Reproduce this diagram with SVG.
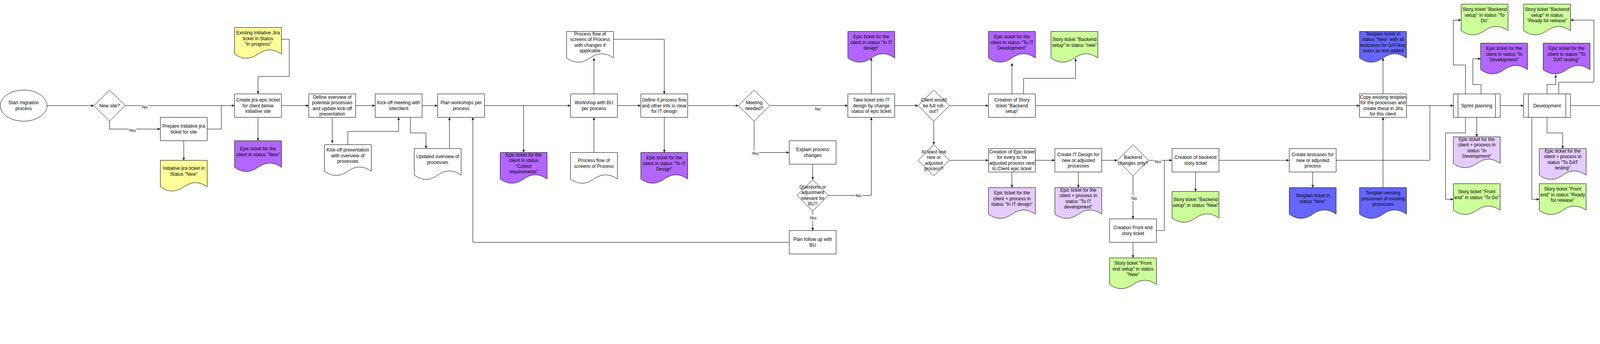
<svg xmlns="http://www.w3.org/2000/svg" width="5732" height="881" viewBox="0 0 5732 881">
<defs>
<style>
.w{fill:#fff;stroke:#000;stroke-width:1}
.y{fill:#FFFF99;stroke:#000;stroke-width:1}
.p{fill:#B266FF;stroke:#000;stroke-width:1}
.lp{fill:#E5CCFF;stroke:#000;stroke-width:1}
.g{fill:#CCFF99;stroke:#000;stroke-width:1}
.bl{fill:#6666FF;stroke:#000;stroke-width:1}
.r{fill:#FF3333;stroke:#000;stroke-width:1}
text{font-family:"Liberation Sans",Arial,Helvetica,sans-serif;font-size:12px;text-anchor:middle;dominant-baseline:central;fill:#000}
.c path{fill:none;stroke:#000;stroke-width:1;marker-end:url(#a)}
.c path.n{marker-end:none}
.lbl text{font-size:11px}
.lbl rect{fill:#fff;stroke:none}
</style>
<marker id="a" markerWidth="8" markerHeight="7" refX="8" refY="3.5" orient="auto" markerUnits="userSpaceOnUse"><path d="M0,0L8,3.5L0,7L2.5,3.5Z" fill="#000"/></marker>
<path id="doc" d="M0,0H120V68Q90,46.4 60,68Q30,89.6 0,68Z"/>
<path id="dia" d="M40,0L80,40L40,80L0,40Z"/>
<g id="proc"><rect width="120" height="60"/><path d="M12,0V60M108,0V60" fill="none"/></g>
</defs>
<rect width="5732" height="881" fill="#fff"/>
<g transform="translate(0.5,0.5)">
<g id="n_start"><ellipse cx="60" cy="270" rx="60" ry="40" class="w"/><text><tspan x="60" y="262.8">Start migration</tspan><tspan x="60" y="277.2">process</tspan></text></g>
<g id="n_newsite"><use href="#dia" x="240" y="230" class="w"/><text x="280" y="270">New site?</text></g>
<g id="n_prepare"><rect x="410" y="300" width="120" height="60" class="w"/><text><tspan x="470" y="322.8">Prepare Initiative jira</tspan><tspan x="470" y="337.2">ticket for site</tspan></text></g>
<g id="n_initnew"><use href="#doc" x="410" y="410" class="y"/><text><tspan x="470" y="430.8">Initiative jira ticket in</tspan><tspan x="470" y="445.2">Status "New"</tspan></text></g>
<g id="n_existing"><use href="#doc" x="600" y="70" class="y"/><text><tspan x="660" y="83.6">Existing Initiative Jira</tspan><tspan x="660" y="98">ticket in Status</tspan><tspan x="660" y="112.4">"In progress"</tspan></text></g>
<g id="n_createepic"><rect x="600" y="240" width="120" height="60" class="w"/><text><tspan x="660" y="255.6">Create jira epic ticket</tspan><tspan x="660" y="270">for client below</tspan><tspan x="660" y="284.4">initiative site</tspan></text></g>
<g id="n_epicnew"><use href="#doc" x="600" y="360" class="p"/><text><tspan x="660" y="380.8">Epic ticket for the</tspan><tspan x="660" y="395.2">client in status "New"</tspan></text></g>
<g id="n_defineov"><rect x="790" y="240" width="120" height="60" class="w"/><text><tspan x="850" y="248.4">Define overview of</tspan><tspan x="850" y="262.8">potential processes</tspan><tspan x="850" y="277.2">and update kick-off</tspan><tspan x="850" y="291.6">presentation</tspan></text></g>
<g id="n_kopres"><use href="#doc" x="830" y="370" class="w"/><text><tspan x="890" y="383.6">Kick-off presentation</tspan><tspan x="890" y="398">with overview of</tspan><tspan x="890" y="412.4">processes</tspan></text></g>
<g id="n_komeet"><rect x="960" y="240" width="120" height="60" class="w"/><text><tspan x="1020" y="262.8">Kick-off meeting with</tspan><tspan x="1020" y="277.2">site/client</tspan></text></g>
<g id="n_updov"><use href="#doc" x="1060" y="380" class="w"/><text><tspan x="1120" y="400.8">Updated overview of</tspan><tspan x="1120" y="415.2">processes</tspan></text></g>
<g id="n_planws"><rect x="1120" y="240" width="120" height="60" class="w"/><text><tspan x="1180" y="262.8">Plan workshops per</tspan><tspan x="1180" y="277.2">process</tspan></text></g>
<g id="n_epiccoll"><use href="#doc" x="1280" y="390" class="p"/><text><tspan x="1340" y="396.4">Epic ticket for the</tspan><tspan x="1340" y="410.8">client in status</tspan><tspan x="1340" y="425.2">"Collect</tspan><tspan x="1340" y="439.6">requirements"</tspan></text></g>
<g id="n_pfchg"><use href="#doc" x="1450" y="80" class="w"/><text><tspan x="1510" y="86.4">Process flow of</tspan><tspan x="1510" y="100.8">screens of Process</tspan><tspan x="1510" y="115.2">with changes if</tspan><tspan x="1510" y="129.6">applicable</tspan></text></g>
<g id="n_workshop"><rect x="1460" y="240" width="120" height="60" class="w"/><text><tspan x="1520" y="262.8">Workshop with BU</tspan><tspan x="1520" y="277.2">per process</tspan></text></g>
<g id="n_pfscr"><use href="#doc" x="1460" y="390" class="w"/><text><tspan x="1520" y="410.8">Process flow of</tspan><tspan x="1520" y="425.2">screens of Process</tspan></text></g>
<g id="n_defineif"><rect x="1640" y="240" width="120" height="60" class="w"/><text><tspan x="1700" y="255.6">Define if process flow</tspan><tspan x="1700" y="270">and other info is clear</tspan><tspan x="1700" y="284.4">for IT design</tspan></text></g>
<g id="n_epictoitd"><use href="#doc" x="1640" y="390" class="p"/><text><tspan x="1700" y="403.6">Epic ticket for the</tspan><tspan x="1700" y="418">client in status "To IT</tspan><tspan x="1700" y="432.4">Design"</tspan></text></g>
<g id="n_meeting"><use href="#dia" x="1890" y="230" class="w"/><text><tspan x="1930" y="262.8">Meeting</tspan><tspan x="1930" y="277.2">needed?</tspan></text></g>
<g id="n_explain"><rect x="2020" y="360" width="120" height="60" class="w"/><text><tspan x="2080" y="382.8">Explain process</tspan><tspan x="2080" y="397.2">changes</tspan></text></g>
<g id="n_questions"><use href="#dia" x="2040" y="460" class="w"/><text><tspan x="2080" y="478.4">Questions or</tspan><tspan x="2080" y="492.8">adjustment</tspan><tspan x="2080" y="507.2">relevant for</tspan><tspan x="2080" y="521.6">BU?</tspan></text></g>
<g id="n_followup"><rect x="2020" y="590" width="120" height="60" class="w"/><text><tspan x="2080" y="612.8">Plan follow up with</tspan><tspan x="2080" y="627.2">BU</tspan></text></g>
<g id="n_take"><rect x="2170" y="240" width="120" height="60" class="w"/><text><tspan x="2230" y="255.6">Take ticket into IT</tspan><tspan x="2230" y="270">design by change</tspan><tspan x="2230" y="284.4">status of epic ticket</tspan></text></g>
<g id="n_epicinitd"><use href="#doc" x="2170" y="80" class="p"/><text><tspan x="2230" y="93.6">Epic ticket for the</tspan><tspan x="2230" y="108">client in status "In IT</tspan><tspan x="2230" y="122.4">design"</tspan></text></g>
<g id="n_fullroll"><use href="#dia" x="2350" y="230" class="w"/><text><tspan x="2390" y="255.6">Client would</tspan><tspan x="2390" y="270">be full roll-</tspan><tspan x="2390" y="284.4">out?</tspan></text></g>
<g id="n_atleast"><use href="#dia" x="2350" y="370" class="w"/><text><tspan x="2390" y="388.4">At least one</tspan><tspan x="2390" y="402.8">new or</tspan><tspan x="2390" y="417.2">adjusted</tspan><tspan x="2390" y="431.6">process?</tspan></text></g>
<g id="n_storycr"><rect x="2530" y="240" width="120" height="60" class="w"/><text><tspan x="2590" y="255.6">Creation of Story</tspan><tspan x="2590" y="270">ticket "Backend</tspan><tspan x="2590" y="284.4">setup"</tspan></text></g>
<g id="n_epictoitdev"><use href="#doc" x="2530" y="80" class="p"/><text><tspan x="2590" y="93.6">Epic ticket for the</tspan><tspan x="2590" y="108">client in status "To IT</tspan><tspan x="2590" y="122.4">Development"</tspan></text></g>
<g id="n_storybenew"><use href="#doc" x="2690" y="80" class="g"/><text><tspan x="2750" y="100.8">Story ticket "Backend</tspan><tspan x="2750" y="115.2">setup" in status "new"</tspan></text></g>
<g id="n_epiccr"><rect x="2530" y="380" width="120" height="60" class="w"/><text><tspan x="2590" y="388.4">Creation of Epic ticket</tspan><tspan x="2590" y="402.8">for every to be</tspan><tspan x="2590" y="417.2">adjusted process next</tspan><tspan x="2590" y="431.6">to Client epic ticket</tspan></text></g>
<g id="n_epiccpinitd"><use href="#doc" x="2530" y="480" class="lp"/><text><tspan x="2590" y="493.6">Epic ticket for the</tspan><tspan x="2590" y="508">client + process in</tspan><tspan x="2590" y="522.4">status "In IT design"</tspan></text></g>
<g id="n_createitd"><rect x="2700" y="380" width="120" height="60" class="w"/><text><tspan x="2760" y="395.6">Create IT Design for</tspan><tspan x="2760" y="410">new or adjusted</tspan><tspan x="2760" y="424.4">processes</tspan></text></g>
<g id="n_epiccptoitdev"><use href="#doc" x="2700" y="480" class="lp"/><text><tspan x="2760" y="486.4">Epic ticket for the</tspan><tspan x="2760" y="500.8">client + process in</tspan><tspan x="2760" y="515.2">status "To IT</tspan><tspan x="2760" y="529.6">development"</tspan></text></g>
<g id="n_backendq"><use href="#dia" x="2860" y="370" class="w"/><text><tspan x="2900" y="402.8">Backend</tspan><tspan x="2900" y="417.2">changes only?</tspan></text></g>
<g id="n_becr"><rect x="3000" y="380" width="120" height="60" class="w"/><text><tspan x="3060" y="402.8">Creation of backend</tspan><tspan x="3060" y="417.2">story ticket</tspan></text></g>
<g id="n_storybeNew"><use href="#doc" x="3000" y="490" class="g"/><text><tspan x="3060" y="510.8">Story ticket "Backend</tspan><tspan x="3060" y="525.2">setup" in status "New"</tspan></text></g>
<g id="n_fecr"><rect x="2840" y="560" width="120" height="60" class="w"/><text><tspan x="2900" y="582.8">Creation Front end</tspan><tspan x="2900" y="597.2">story ticket</tspan></text></g>
<g id="n_storyfeNew"><use href="#doc" x="2840" y="660" class="g"/><text><tspan x="2900" y="673.6">Story ticket "Front</tspan><tspan x="2900" y="688">end setup" in status</tspan><tspan x="2900" y="702.4">"New"</tspan></text></g>
<g id="n_createtc"><rect x="3300" y="380" width="120" height="60" class="w"/><text><tspan x="3360" y="395.6">Create testcases for</tspan><tspan x="3360" y="410">new or adjusted</tspan><tspan x="3360" y="424.4">process</tspan></text></g>
<g id="n_tpnew"><use href="#doc" x="3300" y="480" class="bl"/><text><tspan x="3360" y="500.8">Testplan ticket in</tspan><tspan x="3360" y="515.2">status "New"</tspan></text></g>
<g id="n_copy"><rect x="3480" y="240" width="120" height="60" class="w"/><text><tspan x="3540" y="248.4">Copy existing testplan</tspan><tspan x="3540" y="262.8">for the processes and</tspan><tspan x="3540" y="277.2">create these in Jira</tspan><tspan x="3540" y="291.6">for this client</tspan></text></g>
<g id="n_tpall"><use href="#doc" x="3480" y="80" class="bl"/><text><tspan x="3540" y="86.4">Testplan ticket in</tspan><tspan x="3540" y="100.8">status "New" with all</tspan><tspan x="3540" y="115.2">testcases for DAT/key</tspan><tspan x="3540" y="129.6">users as test added</tspan></text></g>
<g id="n_tpexist"><use href="#doc" x="3480" y="480" class="bl"/><text><tspan x="3540" y="493.6">Testplan existing</tspan><tspan x="3540" y="508">processes of existing</tspan><tspan x="3540" y="522.4">processes</tspan></text></g>
<g id="n_sprint"><use href="#proc" x="3720" y="240" class="w"/><text x="3780" y="270">Sprint planning</text></g>
<g id="n_storybetodo"><use href="#doc" x="3740" y="10" class="g"/><text><tspan x="3800" y="23.6">Story ticket "Backend</tspan><tspan x="3800" y="38">setup" in status "To</tspan><tspan x="3800" y="52.4">Do"</tspan></text></g>
<g id="n_epicindev"><use href="#doc" x="3790" y="110" class="p"/><text><tspan x="3850" y="123.6">Epic ticket for the</tspan><tspan x="3850" y="138">client in status "In</tspan><tspan x="3850" y="152.4">Development"</tspan></text></g>
<g id="n_epiccpindev"><use href="#doc" x="3720" y="350" class="lp"/><text><tspan x="3780" y="356.4">Epic ticket for the</tspan><tspan x="3780" y="370.8">client + process in</tspan><tspan x="3780" y="385.2">status "In</tspan><tspan x="3780" y="399.6">Development"</tspan></text></g>
<g id="n_storyfetodo"><use href="#doc" x="3720" y="470" class="g"/><text><tspan x="3780" y="490.8">Story ticket "Front</tspan><tspan x="3780" y="505.2">end" in status "To Do"</tspan></text></g>
<g id="n_dev"><use href="#proc" x="3900" y="240" class="w"/><text x="3960" y="270">Development</text></g>
<g id="n_storyberfr"><use href="#doc" x="3900" y="10" class="g"/><text><tspan x="3960" y="23.6">Story ticket "Backend</tspan><tspan x="3960" y="38">setup" in status</tspan><tspan x="3960" y="52.4">"Ready for release"</tspan></text></g>
<g id="n_epictodat"><use href="#doc" x="3950" y="110" class="p"/><text><tspan x="4010" y="123.6">Epic ticket for the</tspan><tspan x="4010" y="138">client in status "To</tspan><tspan x="4010" y="152.4">DAT testing"</tspan></text></g>
<g id="n_epiccptodat"><use href="#doc" x="3940" y="380" class="lp"/><text><tspan x="4000" y="386.4">Epic ticket for the</tspan><tspan x="4000" y="400.8">client + process in</tspan><tspan x="4000" y="415.2">status "To DAT</tspan><tspan x="4000" y="429.6">testing"</tspan></text></g>
<g id="n_storyferfr"><use href="#doc" x="3940" y="470" class="g"/><text><tspan x="4000" y="483.6">Story ticket "Front</tspan><tspan x="4000" y="498">end" in status "Ready</tspan><tspan x="4000" y="512.4">for release"</tspan></text></g>
<g id="n_tpdat"><use href="#proc" x="4140" y="240" class="w"/><text><tspan x="4200" y="262.8">Test planning</tspan><tspan x="4200" y="277.2">DAT</tspan></text></g>
<g id="n_tpinprog1"><use href="#doc" x="4150" y="0" class="bl"/><text><tspan x="4210" y="20.8">Testplan ticket in</tspan><tspan x="4210" y="35.2">status "In progress"</tspan></text></g>
<g id="n_epicindat"><use href="#doc" x="4150" y="110" class="p"/><text><tspan x="4210" y="123.6">Epic ticket for the</tspan><tspan x="4210" y="138">client in status "In</tspan><tspan x="4210" y="152.4">DAT testing"</tspan></text></g>
<g id="n_epiccpindat"><use href="#doc" x="4140" y="380" class="lp"/><text><tspan x="4200" y="386.4">Epic ticket for the</tspan><tspan x="4200" y="400.8">client + process in</tspan><tspan x="4200" y="415.2">status "In DAT</tspan><tspan x="4200" y="429.6">testing"</tspan></text></g>
<g id="n_dattest"><rect x="4350" y="240" width="120" height="60" class="w"/><text x="4410" y="270">DAT testing</text></g>
<g id="n_test1"><use href="#dia" x="4530" y="230" class="w"/><text><tspan x="4570" y="262.8">Testing</tspan><tspan x="4570" y="277.2">successfull?</tspan></text></g>
<g id="n_tpinprog2"><use href="#doc" x="4630" y="0" class="bl"/><text><tspan x="4690" y="20.8">Testplan ticket in</tspan><tspan x="4690" y="35.2">status "In progress"</tspan></text></g>
<g id="n_epictokey"><use href="#doc" x="4630" y="130" class="p"/><text><tspan x="4690" y="143.6">Epic ticket for the</tspan><tspan x="4690" y="158">client in status "To</tspan><tspan x="4690" y="172.4">Key user testing"</tspan></text></g>
<g id="n_epiccptokey"><use href="#doc" x="4630" y="320" class="lp"/><text><tspan x="4690" y="326.4">Epic ticket for the</tspan><tspan x="4690" y="340.8">client + process in</tspan><tspan x="4690" y="355.2">status "To Key user</tspan><tspan x="4690" y="369.6">testing"</tspan></text></g>
<g id="n_bugintest"><use href="#doc" x="4760" y="320" class="r"/><text><tspan x="4820" y="340.8">Bug ticket with status</tspan><tspan x="4820" y="355.2">"In test"</tspan></text></g>
<g id="n_tpkey"><use href="#proc" x="4860" y="240" class="w"/><text><tspan x="4920" y="262.8">Test planning</tspan><tspan x="4920" y="277.2">Key users</tspan></text></g>
<g id="n_tpinprog3"><use href="#doc" x="4960" y="0" class="bl"/><text><tspan x="5020" y="20.8">Testplan ticket in</tspan><tspan x="5020" y="35.2">status "In progress"</tspan></text></g>
<g id="n_epicinkey"><use href="#doc" x="4950" y="130" class="p"/><text><tspan x="5010" y="143.6">Epic ticket for the</tspan><tspan x="5010" y="158">client in status "In Key</tspan><tspan x="5010" y="172.4">user testing"</tspan></text></g>
<g id="n_epiccpinkey"><use href="#doc" x="4950" y="320" class="lp"/><text><tspan x="5010" y="326.4">Epic ticket for the</tspan><tspan x="5010" y="340.8">client + process in</tspan><tspan x="5010" y="355.2">status "In Key user</tspan><tspan x="5010" y="369.6">testing"</tspan></text></g>
<g id="n_keytest"><rect x="5040" y="240" width="120" height="60" class="w"/><text x="5100" y="270">Key user testing</text></g>
<g id="n_test2"><use href="#dia" x="5250" y="230" class="w"/><text><tspan x="5290" y="262.8">Testing</tspan><tspan x="5290" y="277.2">successfull?</tspan></text></g>
<g id="n_tpdone"><use href="#doc" x="5370" y="20" class="bl"/><text><tspan x="5430" y="40.8">Testplan ticket in</tspan><tspan x="5430" y="55.2">status "Done"</tspan></text></g>
<g id="n_epicrfr"><use href="#doc" x="5370" y="140" class="p"/><text><tspan x="5430" y="153.6">Epic ticket for the</tspan><tspan x="5430" y="168">client in status</tspan><tspan x="5430" y="182.4">"Ready for release"</tspan></text></g>
<g id="n_epiccprfr"><use href="#doc" x="5370" y="330" class="lp"/><text><tspan x="5430" y="336.4">Epic ticket for the</tspan><tspan x="5430" y="350.8">client + process in</tspan><tspan x="5430" y="365.2">status "Ready for</tspan><tspan x="5430" y="379.6">release"</tspan></text></g>
<g id="n_bugdone"><use href="#doc" x="5370" y="430" class="r"/><text><tspan x="5430" y="450.8">Bug ticket with status</tspan><tspan x="5430" y="465.2">"Done"</tspan></text></g>
<g id="n_relplan"><use href="#proc" x="5440" y="240" class="w"/><text><tspan x="5500" y="262.8">Release</tspan><tspan x="5500" y="277.2">planning</tspan></text></g>
<g id="n_golive"><use href="#proc" x="5610" y="240" class="w"/><text x="5670" y="270">Go live</text></g>
<g id="n_epicdone"><use href="#doc" x="5610" y="140" class="p"/><text><tspan x="5670" y="160.8">Epic ticket for the</tspan><tspan x="5670" y="175.2">client in status "Done"</tspan></text></g>
<g id="n_epiccpdone"><use href="#doc" x="5610" y="330" class="lp"/><text><tspan x="5670" y="343.6">Epic ticket for the</tspan><tspan x="5670" y="358">client + process in</tspan><tspan x="5670" y="372.4">status "Done"</tspan></text></g>
<g id="n_createbug"><rect x="4500" y="600" width="120" height="60" class="w"/><text><tspan x="4560" y="622.8">Create bug ticket</tspan><tspan x="4560" y="637.2">update epic status</tspan></text></g>
<g id="n_epictoit"><use href="#doc" x="4630" y="500" class="p"/><text><tspan x="4690" y="513.6">Epic ticket for the</tspan><tspan x="4690" y="528">client in status "To IT</tspan><tspan x="4690" y="542.4">development"</tspan></text></g>
<g id="n_epiccptoit"><use href="#doc" x="4630" y="690" class="lp"/><text><tspan x="4690" y="696.4">Epic ticket for the</tspan><tspan x="4690" y="710.8">client + process in</tspan><tspan x="4690" y="725.2">status "To IT</tspan><tspan x="4690" y="739.6">development"</tspan></text></g>
<g id="n_bugwait"><use href="#doc" x="4640" y="800" class="r"/><text><tspan x="4700" y="820.8">Bug ticket with status</tspan><tspan x="4700" y="835.2">"Waiting for support"</tspan></text></g>
<g id="n_evaluate"><rect x="4760" y="600" width="120" height="60" class="w"/><text x="4820" y="630">Evaluate bug</text></g>
<g id="n_epicinit"><use href="#doc" x="4890" y="500" class="p"/><text><tspan x="4950" y="513.6">Epic ticket for the</tspan><tspan x="4950" y="528">client in status "In IT</tspan><tspan x="4950" y="542.4">development"</tspan></text></g>
<g id="n_epiccpinit"><use href="#doc" x="4890" y="690" class="lp"/><text><tspan x="4950" y="696.4">Epic ticket for the</tspan><tspan x="4950" y="710.8">client + process in</tspan><tspan x="4950" y="725.2">status "In IT</tspan><tspan x="4950" y="739.6">development"</tspan></text></g>
<g id="n_buginprog"><use href="#doc" x="4890" y="800" class="r"/><text><tspan x="4950" y="820.8">Bug ticket with status</tspan><tspan x="4950" y="835.2">"In progress"</tspan></text></g>
<g id="n_fix"><rect x="4990" y="600" width="120" height="60" class="w"/><text x="5050" y="630">Fix Bug</text></g>
<g id="n_epictodat2"><use href="#doc" x="5100" y="500" class="p"/><text><tspan x="5160" y="513.6">Epic ticket for the</tspan><tspan x="5160" y="528">client in status "To</tspan><tspan x="5160" y="542.4">DAT testing"</tspan></text></g>
<g id="n_epiccptodat2"><use href="#doc" x="5100" y="690" class="lp"/><text><tspan x="5160" y="696.4">Epic ticket for the</tspan><tspan x="5160" y="710.8">client + process in</tspan><tspan x="5160" y="725.2">status "To DAT</tspan><tspan x="5160" y="739.6">testing"</tspan></text></g>
<g id="n_bugready"><use href="#doc" x="5100" y="800" class="r"/><text><tspan x="5160" y="820.8">Bug ticket with status</tspan><tspan x="5160" y="835.2">"Ready to test"</tspan></text></g>
<g id="connectors" class="c">
<path d="M120,270H240"/>
<path d="M320,270H600"/>
<path d="M280,310V330H410"/>
<path class="n" d="M530,330H566V270"/>
<path d="M470,360V410"/>
<path d="M720,100H740V195H660V240"/>
<path d="M720,270H790"/>
<path d="M660,300V360"/>
<path d="M910,270H960"/>
<path d="M850,300V366"/>
<path d="M890,370V336H1020V300"/>
<path d="M1050,300V340H1090V380"/>
<path d="M1080,270H1120"/>
<path d="M1150,380V300"/>
<path d="M2020,620H1210V300"/>
<path d="M1240,270H1460"/>
<path d="M1340,270V390"/>
<path d="M1520,240V148"/>
<path d="M1570,100H1700V240"/>
<path d="M1520,390V300"/>
<path d="M1580,270H1640"/>
<path d="M1700,300V390"/>
<path d="M1760,270H1890"/>
<path d="M1970,270H2170"/>
<path d="M1930,310V390H2020"/>
<path d="M2080,420V460"/>
<path d="M2120,500H2230V300"/>
<path d="M2080,540V590"/>
<path d="M2230,240V148"/>
<path d="M2290,270H2350"/>
<path d="M2430,270H2530"/>
<path d="M2390,310V370"/>
<path d="M2430,410H2530"/>
<path d="M2590,240V161"/>
<path d="M2620,240V200H2753V149"/>
<path d="M2650,270H3480"/>
<path d="M2650,410H2700"/>
<path d="M2590,440V480"/>
<path d="M2760,440V480"/>
<path d="M2820,410H2860"/>
<path d="M2940,410H3000"/>
<path d="M2900,450V560"/>
<path class="n" d="M2960,590H2980V410"/>
<path d="M2900,620V660"/>
<path d="M3060,440V490"/>
<path d="M3120,410H3300"/>
<path d="M3360,440V480"/>
<path d="M3540,240V148"/>
<path d="M3540,480V300"/>
<path class="n" d="M3420,410H3660V270"/>
<path d="M3600,270H3720"/>
<path d="M3751,240V166H3720V51H3740"/>
<path d="M3791,240V216H3770V150H3790"/>
<path d="M3780,300V350"/>
<path d="M3751,300V340H3700V510H3720"/>
<path d="M3840,270H3900"/>
<path d="M3960,240V216H3982V191"/>
<path d="M3990,240V210H4080V51H4020"/>
<path d="M3960,300V340H4000V380"/>
<path d="M3921,300V510H3940"/>
<path class="n" d="M4020,270H4140"/>
<path d="M4170,240V200H4130V40H4150"/>
<path d="M4200,240V183"/>
<path d="M4200,300V380"/>
<path d="M4260,270H4350"/>
<path d="M4470,270H4530"/>
<path d="M4610,270H4630V156H4610V33H4630"/>
<path d="M4630,210H4610V162H4630"/>
<path d="M4630,270V330H4610V360H4630"/>
<path d="M4610,270H4860"/>
<path d="M4820,270V320"/>
<path class="n" d="M4570,310V456"/>
<path d="M5290,310V456H4560V600"/>
<path d="M4920,240V40H4960"/>
<path d="M4920,170H4950"/>
<path d="M4920,300V360H4950"/>
<path d="M4980,270H5040"/>
<path d="M5160,270H5250"/>
<path d="M5290,230V61H5370"/>
<path d="M5330,270H5440"/>
<path d="M5351,270V180H5370"/>
<path d="M5351,270V470H5370"/>
<path d="M5351,370H5370"/>
<path d="M5560,270H5610"/>
<path d="M5670,240V212"/>
<path d="M5670,300V330"/>
<path d="M4591,600V540H4630"/>
<path d="M4591,660V730H4630"/>
<path d="M4560,660V840H4640"/>
<path d="M4620,630H4760"/>
<path d="M4820,600V540H4890"/>
<path d="M4820,660V840H4890"/>
<path d="M4820,730H4890"/>
<path d="M4880,630H4990"/>
<path d="M5080,600V540H5100"/>
<path d="M5080,660V840H5100"/>
<path d="M5080,730H5100"/>
<path d="M5110,630H5300V470H4410V300"/>
<g class="lbl">
<rect x="362" y="266" width="17" height="14"/><text x="370" y="273">No</text>
<rect x="328" y="326" width="20" height="14"/><text x="338" y="333">Yes</text>
<text x="2093" y="278">No</text>
<rect x="1923" y="385" width="20" height="14"/><text x="1933" y="392">Yes</text>
<rect x="2189" y="493" width="17" height="14"/><text x="2197" y="500">No</text>
<rect x="2071" y="550" width="20" height="14"/><text x="2081" y="557">Yes</text>
<rect x="2953" y="406" width="20" height="14"/><text x="2963" y="413">Yes</text>
<rect x="2895" y="500" width="17" height="14"/><text x="2903" y="507">No</text>
</g>
</g>
</g>
</svg>
